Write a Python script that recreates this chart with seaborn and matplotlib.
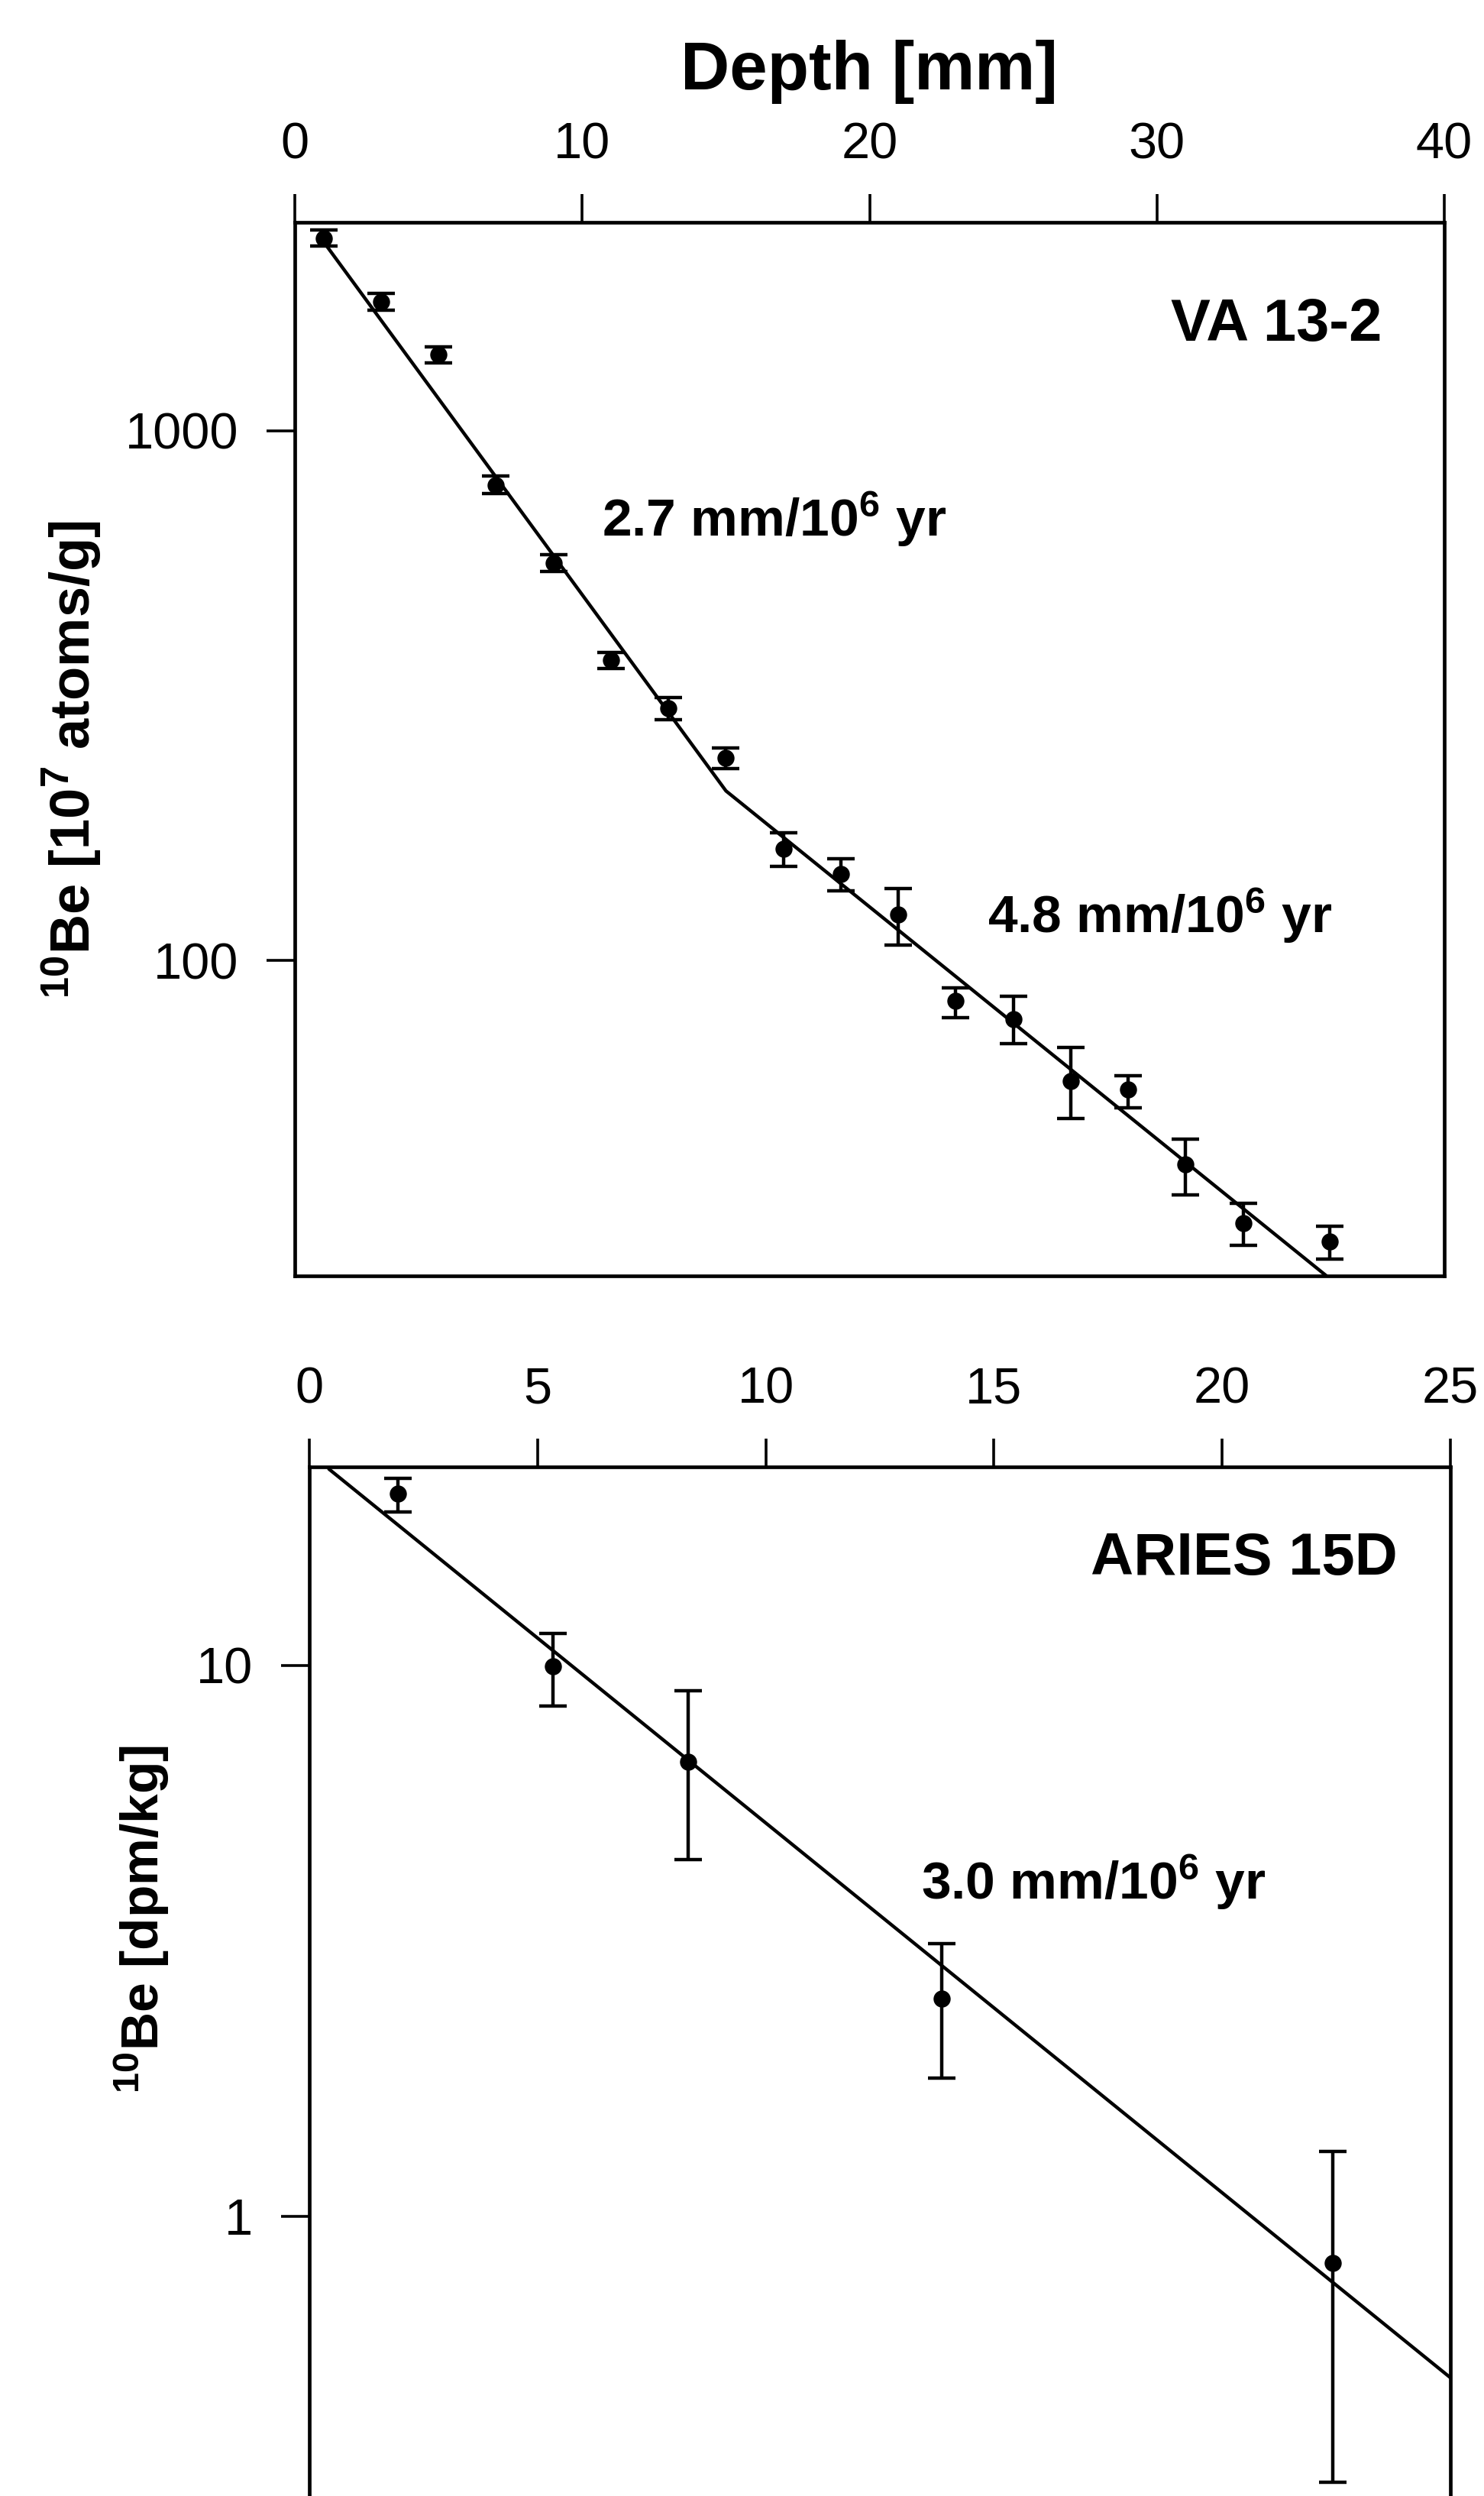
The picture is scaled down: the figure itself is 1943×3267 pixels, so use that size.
import numpy as np
import pandas as pd
import matplotlib
matplotlib.use("Agg")
import matplotlib.pyplot as plt
import matplotlib.ticker as mticker
import seaborn as sns

# VA 13-2 profile, 10Be in 10^7 atoms/g
va_depth = [1, 3, 5, 7, 9, 11, 13, 15, 17, 19, 21, 23, 25, 27, 29, 31, 33, 36]
va_be = [2309, 1751, 1391, 790, 563, 369, 299, 241, 162.3, 145.8, 122.0, 83.9, 77.5, 59.3, 57.2, 41.2, 31.9, 29.5]
va_be_lo = [2230, 1690, 1340, 760, 543, 356, 285, 230, 150.7, 135.3, 106.9, 78.1, 69.6, 50.4, 52.8, 36.1, 29.0, 27.3]
va_be_hi = [2390, 1815, 1440, 820, 583, 382, 314, 252, 174.3, 155.8, 136.9, 88.9, 85.6, 68.5, 60.7, 46.1, 34.8, 31.5]
va_fit_depth = [0.9, 15.0, 35.9]
va_fit_be = [2310, 209, 25.4]
va_xticks = [0, 10, 20, 30, 40]
va_yticks = [100, 1000]

# ARIES 15D profile, 10Be in dpm/kg
aries_depth = [1.95, 5.34, 8.30, 13.86, 22.43]
aries_be = [20.5, 9.95, 6.68, 2.48, 0.823]
aries_be_lo = [18.96, 8.42, 4.44, 1.78, 0.329]
aries_be_hi = [21.8, 11.43, 9.0, 3.13, 1.31]
aries_fit_depth = [0.43, 25.0]
aries_fit_be = [22.7, 0.51]
aries_xticks = [0, 5, 10, 15, 20, 25]
aries_yticks = [1, 10]

sns.set_style("ticks")
plt.rcParams["font.family"] = ["Liberation Sans", "DejaVu Sans"]
plt.rcParams["mathtext.default"] = "regular"
for key in ["text.color", "axes.labelcolor", "xtick.color", "ytick.color",
            "axes.edgecolor"]:
    plt.rcParams[key] = "black"


def draw_panel(ax, depth, be, lo, hi, fit_x, fit_y, xticks, yticks, ylim):
    ax.set_yscale("log")
    df = pd.DataFrame({"depth": depth, "be": be})
    yerr = [np.subtract(be, lo), np.subtract(hi, be)]
    ax.errorbar(depth, be, yerr=yerr, fmt="none", ecolor="black",
                elinewidth=3.2, capsize=13, capthick=3.2, zorder=2)
    sns.scatterplot(data=df, x="depth", y="be", ax=ax, color="black",
                    s=260, edgecolor="black", linewidth=0, zorder=3)
    sns.lineplot(x=fit_x, y=fit_y, ax=ax, color="black", linewidth=3.2,
                 zorder=2)
    ax.set_xlim(xticks[0], xticks[-1])
    ax.set_ylim(*ylim)
    ax.set_xticks(xticks)
    ax.set_xticklabels([str(t) for t in xticks])
    ax.set_yticks(yticks)
    ax.set_yticklabels([str(t) for t in yticks])
    ax.yaxis.set_minor_locator(mticker.NullLocator())
    ax.xaxis.set_minor_locator(mticker.NullLocator())
    ax.xaxis.tick_top()
    ax.tick_params(axis="x", top=True, bottom=False, labeltop=True,
                   labelbottom=False, direction="out", length=27, width=2.6,
                   labelsize=48, pad=23, colors="black")
    ax.tick_params(axis="y", left=True, right=False, direction="out",
                   length=27, width=2.6, labelsize=48, pad=26, colors="black")
    ax.set_xlabel("")
    ax.set_ylabel("")
    for sp in ax.spines.values():
        sp.set_visible(True)
        sp.set_linewidth(3.4)
        sp.set_color("black")


fig = plt.figure(figsize=(19.43, 32.67), dpi=100)

ax1 = fig.add_axes([0.1987, 0.4888, 0.7746, 0.4221])
draw_panel(ax1, va_depth, va_be, va_be_lo, va_be_hi, va_fit_depth, va_fit_be,
           va_xticks, va_yticks, (25.4, 2471))
ax1.text(0.9455, 0.8876, "VA 13-2", transform=ax1.transAxes, ha="right",
         va="baseline", fontsize=56, fontweight="bold")
ax1.text(0.267, 0.7022, "2.7 mm/10$^{6}$ yr", transform=ax1.transAxes,
         ha="left", va="baseline", fontsize=50, fontweight="bold")
ax1.text(0.6027, 0.3257, "4.8 mm/10$^{6}$ yr", transform=ax1.transAxes,
         ha="left", va="baseline", fontsize=50, fontweight="bold")

ax2 = fig.add_axes([0.2084, 0.0, 0.7689, 0.4123])
draw_panel(ax2, aries_depth, aries_be, aries_be_lo, aries_be_hi,
           aries_fit_depth, aries_fit_be, aries_xticks, aries_yticks,
           (0.311, 22.9))
ax2.spines["bottom"].set_visible(False)
ax2.text(0.9538, 0.8951, "ARIES 15D", transform=ax2.transAxes, ha="right",
         va="baseline", fontsize=56, fontweight="bold")
ax2.text(0.5361, 0.5799, "3.0 mm/10$^{6}$ yr", transform=ax2.transAxes,
         ha="left", va="baseline", fontsize=50, fontweight="bold")

fig.text(0.5855, 0.9642, "Depth [mm]", ha="center", va="baseline",
         fontsize=64, fontweight="bold")
fig.text(0.0484, 0.6957, "$^{10}$Be [10$^{7}$ atoms/g]", rotation=90,
         ha="center", va="center", fontsize=52, fontweight="bold")
fig.text(0.0957, 0.2311, "$^{10}$Be [dpm/kg]", rotation=90,
         ha="center", va="center", fontsize=50, fontweight="bold")

fig.savefig("out.png", dpi=100, facecolor="white")
